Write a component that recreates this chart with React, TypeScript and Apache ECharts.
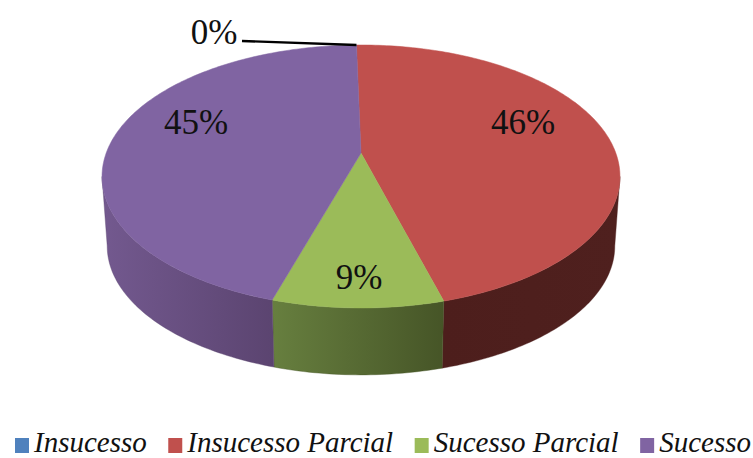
import React, { useEffect, useRef } from "react";
import * as echarts from "echarts";

const categories = ["Insucesso", "Insucesso Parcial", "Sucesso Parcial", "Sucesso"];
const shares = [0, 46, 9, 45];
const tickLabels = ["0%", "46%", "9%", "45%"];

const topColors = ["#4f81bd", "#c0504d", "#9bbb59", "#8064a2"];
const wallLeftColors = ["#2f4d71", "#4d1e1c", "#677f3f", "#73598f"];
const wallRightColors = ["#2f4d71", "#4f201e", "#465527", "#5b4470"];

// Perspective disc: the rim is a projected circle, so the hub sits above the ellipse's middle.
const HUB_X = 361;
const TOP_HUB_Y = 153;
const TOP_RX = 254.8;
const TOP_RY = 127.3;
const FLOOR_HUB_Y = 223;
const FLOOR_SCALE = 0.98;
const TILT = -0.1787;
const START_DEGREES = -1.2;
const WALL_FROM = 100.3;
const WALL_TO = 259.7;

const labelAnchors = [
  [214, 32],
  [523, 122],
  [359, 277],
  [196, 122],
];
const leaderStart = [242, 41];

// Legend swatch: the square sits in the lower part of the icon box, below the text's middle.
const SWATCH_ICON = "path://M0 0L0 0M0 8L14 8L14 23L0 23Z";

const rimPoint = (deg: number, floor: boolean) => {
  const t = (deg * Math.PI) / 180;
  const u = Math.sin(t);
  const v = -Math.cos(t);
  const w = 1 + TILT * v;
  const s = floor ? FLOOR_SCALE : 1;
  return [
    HUB_X + (s * TOP_RX * u) / w,
    (floor ? FLOOR_HUB_Y : TOP_HUB_Y) + (s * TOP_RY * v) / w,
  ];
};

const arc = (from: number, to: number, floor: boolean) => {
  const steps = Math.max(2, Math.ceil(Math.abs(to - from)));
  const pts: number[][] = [];
  for (let i = 0; i <= steps; i++) {
    pts.push(rimPoint(from + ((to - from) * i) / steps, floor));
  }
  return pts;
};

const total = shares.reduce((a, b) => a + b, 0);

const sliceSpan = (index: number) => {
  const before = shares.slice(0, index).reduce((a, b) => a + b, 0);
  return [
    START_DEGREES + (before / total) * 360,
    START_DEGREES + ((before + shares[index]) / total) * 360,
  ];
};

const renderSlice = (index: number) => () => {
  const [from, to] = sliceSpan(index);
  const children: any[] = [];
  const wallFrom = Math.max(from, WALL_FROM);
  const wallTo = Math.min(to, WALL_TO);
  if (wallTo > wallFrom) {
    children.push({
      type: "polygon",
      shape: {
        points: [...arc(wallFrom, wallTo, false), ...arc(wallTo, wallFrom, true)],
      },
      style: {
        fill: new echarts.graphic.LinearGradient(0, 0, 1, 0, [
          { offset: 0, color: wallLeftColors[index] },
          { offset: 1, color: wallRightColors[index] },
        ]),
        stroke: wallRightColors[index],
        lineWidth: 0.4,
      },
    });
  }
  if (to > from) {
    children.push({
      type: "polygon",
      shape: { points: [[HUB_X, TOP_HUB_Y], ...arc(from, to, false)] },
      style: { fill: topColors[index], stroke: topColors[index], lineWidth: 0.5 },
    });
  } else {
    // An empty slice has no area, so a leader ties its label to the rim.
    const rim = rimPoint(from, false);
    children.push({
      type: "line",
      z2: 5,
      shape: { x1: leaderStart[0], y1: leaderStart[1], x2: rim[0], y2: rim[1] },
      style: { stroke: "#000000", lineWidth: 2.4 },
    });
  }
  children.push({
    type: "text",
    z2: 10,
    x: labelAnchors[index][0],
    y: labelAnchors[index][1],
    style: {
      text: tickLabels[index],
      fill: "#111111",
      fontFamily: "Liberation Serif",
      fontSize: 35,
      align: "center",
      verticalAlign: "middle",
    },
  });
  return { type: "group", children };
};

export default function App() {
  const ref = useRef<HTMLDivElement>(null);
  useEffect(() => {
    const chart = echarts.init(ref.current!, undefined, { renderer: "svg" });
    chart.setOption({
      animation: false,
      backgroundColor: "#ffffff",
      color: topColors,
      legend: {
        data: categories,
        left: 15,
        top: 427,
        padding: 0,
        itemGap: 21.5,
        itemWidth: 14,
        itemHeight: 23,
        icon: SWATCH_ICON,
        textStyle: {
          fontFamily: "Liberation Serif",
          fontStyle: "italic",
          fontSize: 29,
          lineHeight: 29,
          color: "#111111",
        },
      },
      series: categories.map((name, i) => ({
        type: "custom",
        name,
        coordinateSystem: "none",
        silent: true,
        itemStyle: { color: topColors[i] },
        data: [[shares[i]]],
        renderItem: renderSlice(i),
      })),
    });
    return () => chart.dispose();
  }, []);
  return (
    <div
      ref={ref}
      style={{ position: "absolute", left: 0, top: 0, width: 753, height: 458 }}
    />
  );
}
